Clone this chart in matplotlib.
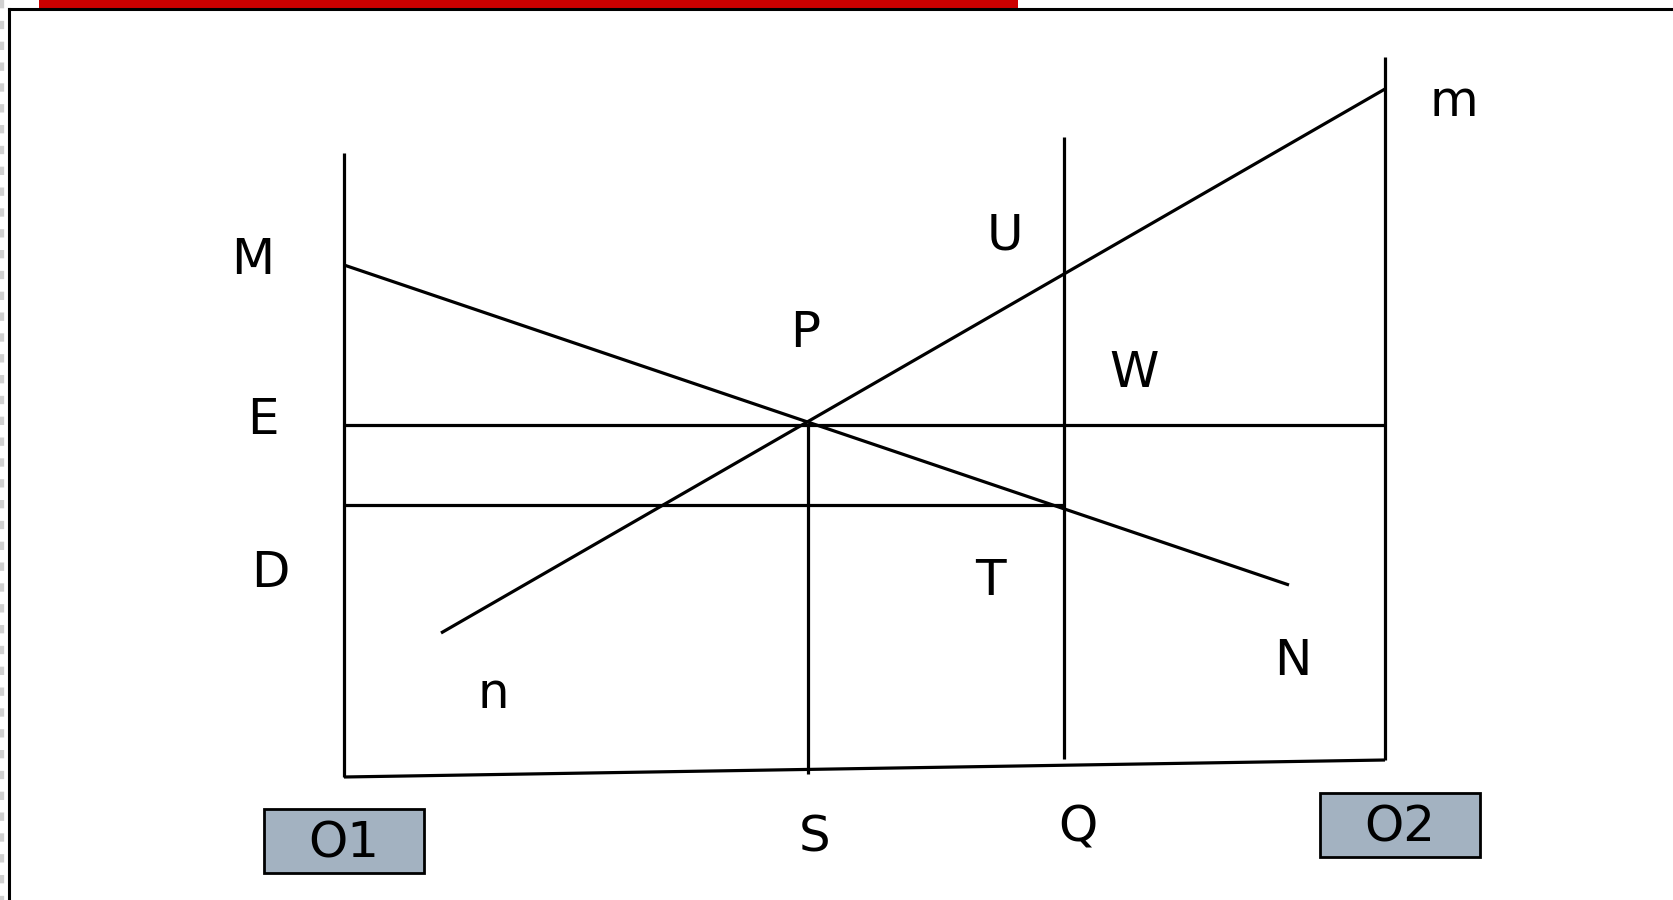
import matplotlib.pyplot as plt
from matplotlib.patches import Rectangle

# canvas in pixel units (y grows downward)
W, H = 1674, 900

# line segments: (x0, y0, x1, y1)
seg_names = ['O1 axis', 'base', 'O2 axis', 'Q', 'S', 'E', 'lower', 'MN', 'nm']
seg_x0 = [344, 344, 1385, 1064, 808, 344, 344, 344, 441]
seg_y0 = [153, 777, 57, 137, 425, 425, 505, 265, 633]
seg_x1 = [344, 1385, 1385, 1064, 808, 1385, 1064, 1289, 1385]
seg_y1 = [777, 760, 760, 759, 774, 425, 505, 585, 89]

# point labels
lbl_text = ['m', 'M', 'U', 'P', 'W', 'E', 'D', 'T', 'N', 'n', 'S', 'Q']
lbl_x = [1454, 253, 1005, 805, 1134, 263, 270, 990, 1293, 493, 815, 1078]
lbl_y = [102, 260, 236, 333, 373, 420, 573, 581, 661, 694, 837, 828]

# boxed origin labels
box_text = ['O1', 'O2']
box_x = [264, 1320]
box_y = [809, 793]
box_w = [160, 160]
box_h = [64, 64]

fig = plt.figure(figsize=(W / 100, H / 100), dpi=100)
ax = fig.add_axes([0, 0, 1, 1])
ax.set_xlim(0, W)
ax.set_ylim(H, 0)
ax.axis('off')

# slide frame
ax.plot([0, 0], [0, H], color='#d0d0d0', lw=6, ls=(0, (1, 1.5)))
ax.add_patch(Rectangle((39, -2), 979, 10, color='#cc0000', lw=0))
ax.plot([9, W + 5], [9, 9], color='black', lw=2.2)
ax.plot([9, 9], [9, H + 5], color='black', lw=2.2)

for x0, y0, x1, y1 in zip(seg_x0, seg_y0, seg_x1, seg_y1):
    ax.plot([x0, x1], [y0, y1], color='black', lw=2.3, solid_capstyle='butt')

for t, x, y in zip(lbl_text, lbl_x, lbl_y):
    ax.text(x, y, t, fontsize=36, ha='center', va='center', family='DejaVu Sans')

for t, x, y, w, h in zip(box_text, box_x, box_y, box_w, box_h):
    ax.add_patch(Rectangle((x, y), w, h, facecolor='#a3b2c1', edgecolor='black', lw=2))
    ax.text(x + w / 2, y + h / 2 + 2, t, fontsize=36, ha='center', va='center',
            family='DejaVu Sans')

fig.savefig('out.png', dpi=100)
